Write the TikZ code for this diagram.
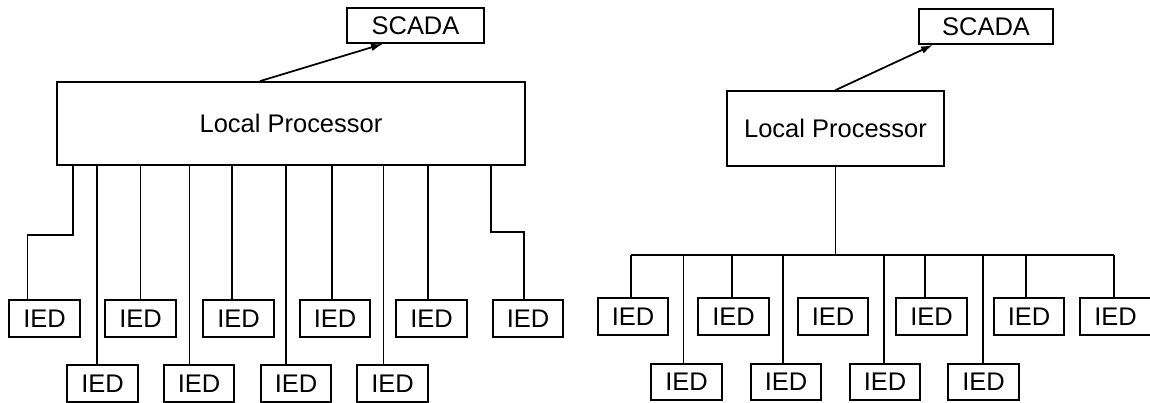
\documentclass[tikz,border=0pt]{standalone}
\usepackage{fontspec}
\setmainfont{Liberation Sans}
\usetikzlibrary{arrows.meta}

\begin{document}
\begin{tikzpicture}[every node/.style={font=\fontsize{14.5}{16}\selectfont}, line width=1pt,
	box/.style={draw, inner sep=0pt},
	ied/.style={box, minimum width=1.41cm, minimum height=0.73cm},
	uplink/.style={-{Latex[length=0.24cm,width=0.15cm]}}]
	\useasboundingbox (0,0) rectangle (23,-8.06);
	% left: every IED has its own line to the processor
	\node[box, minimum width=9.36cm, minimum height=1.66cm] (lpL) at (5.82,-2.47) {Local Processor};
	\node[box, minimum width=2.74cm, minimum height=0.70cm] (scL) at (8.31,-0.51) {SCADA};
	\draw[uplink] ([xshift=-0.62cm]lpL.north) -- ([xshift=-0.65cm]scL.south);
	\foreach \n/\x in {t1/0.89, t2/2.81, t3/4.77, t4/6.70, t5/8.63, t6/10.56}
		\node[ied] (\n) at (\x,-6.37) {IED};
	\foreach \n/\x in {b1/2.05, b2/3.98, b3/5.92, b4/7.85}
		\node[ied] (\n) at (\x,-7.67) {IED};
	\coordinate (j1) at (1.46,-4.70);
	\coordinate (j6) at (9.82,-4.64);
	\draw ([xshift=-0.34cm]t1.north) |- (j1) -- (j1 |- lpL.south);
	\draw ([xshift=-0.08cm]t6.north) |- (j6) -- (j6 |- lpL.south);
	\foreach \n/\s in {t2/0, t3/-0.13, t4/-0.06, t5/-0.07, b1/-0.11, b2/-0.19, b3/-0.20, b4/-0.18}
		\draw ([xshift=\s cm]\n.north) coordinate (c) -- (c |- lpL.south);
	% right: the IEDs hang on one common bus
	\node[box, minimum width=4.34cm, minimum height=1.50cm] (lpR) at (16.71,-2.57) {Local Processor};
	\node[box, minimum width=2.68cm, minimum height=0.70cm] (scR) at (19.72,-0.53) {SCADA};
	\draw[uplink] (lpR.north) -- ([xshift=-1.06cm]scR.south);
	\foreach \n/\x in {u1/12.66, u2/14.67, u3/16.66, u4/18.63, u5/20.58, u6/22.31}
		\node[ied] (\n) at (\x,-6.33) {IED};
	\foreach \n/\x in {v1/13.73, v2/15.72, v3/17.70, v4/19.67}
		\node[ied] (\n) at (\x,-7.64) {IED};
	\coordinate (busL) at (12.62,-5.10);
	\coordinate (busR) at (22.28,-5.10);
	\draw (busL) -- (busR);
	\draw (lpR.south) -- (lpR.south |- busL);
	\foreach \n/\s in {u1/-0.04, u2/-0.03, u4/-0.13, u5/-0.06, u6/-0.03, v1/-0.06, v2/-0.06, v3/-0.02, v4/-0.01}
		\draw ([xshift=\s cm]\n.north) coordinate (c) -- (c |- busL);
\end{tikzpicture}
\end{document}
